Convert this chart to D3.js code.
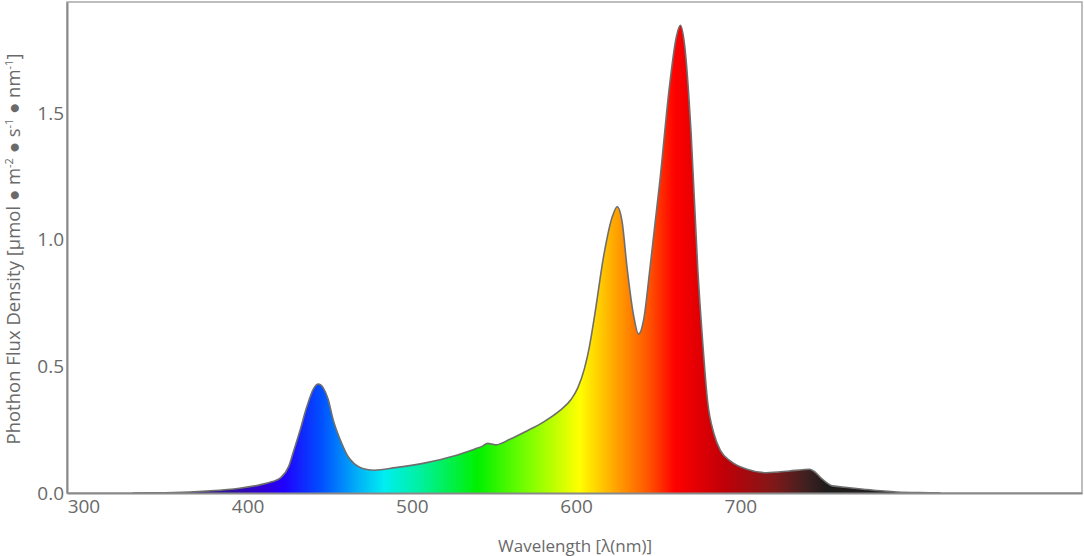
<!DOCTYPE html>
<html>
<head>
<meta charset="utf-8">
<script src="https://cdn.jsdelivr.net/npm/d3@7"></script>
<style>
  body { margin: 0; background: #fff; }
  svg { display: block; font-family: "Open Sans", sans-serif; }
</style>
</head>
<body>
<svg id="chart" width="1084" height="556"></svg>
<script>
// spectrum (nm, µmol/m²/s/nm)
const wavelengths = [330, 345, 355, 375, 395, 408, 415, 420, 425, 428, 432, 436, 440, 443, 446, 449, 452, 457, 461, 465, 470, 477,
  490, 509, 525, 538, 543, 546, 551, 560, 570, 580, 590, 597, 601, 605, 608, 611, 617, 622, 625, 628, 631, 635, 638, 641, 645,
  651, 657, 661, 663.5, 666, 670, 674, 677, 680, 684, 688, 694, 704, 716, 730, 738, 742, 745, 749, 756, 765, 775, 795, 815, 822];
const fluxValues = [0, 0.001, 0.002, 0.008, 0.019, 0.033, 0.045, 0.06, 0.105, 0.166, 0.25, 0.34, 0.41, 0.43, 0.415, 0.37, 0.29, 0.2, 0.145, 0.115, 0.097, 0.09,
  0.1, 0.12, 0.145, 0.173, 0.185, 0.196, 0.19, 0.213, 0.245, 0.28, 0.325, 0.37, 0.415, 0.49, 0.575, 0.69, 0.944, 1.09, 1.13, 1.07, 0.89, 0.7, 0.627, 0.68, 0.89,
  1.233, 1.615, 1.8, 1.846, 1.77, 1.42, 0.89, 0.6, 0.364, 0.232, 0.166, 0.126, 0.094, 0.08, 0.087, 0.092, 0.094, 0.085, 0.06, 0.028, 0.022, 0.015, 0.004, 0.001, 0];

// colour of the fill by wavelength
const colorStops = [330, 360, 390, 410, 422, 445, 465, 483, 505, 540, 572, 602, 625, 645, 660, 690, 720, 740, 752, 800, 830];
const stopColors = ["#606070", "#3a2a70", "#3010a0", "#3000d8", "#2000ff", "#0050ff", "#00a8f8", "#00eef0", "#00f0a0", "#00f000",
  "#80ff00", "#ffff00", "#ffa000", "#ff5000", "#ff0000", "#c00008", "#801818", "#402020", "#201c1c", "#202020", "#606060"];

const xTicks = [300, 400, 500, 600, 700];
const yTicks = [0, 0.5, 1.0, 1.5];

const margin = {left: 67, top: 2, right: 2, bottom: 63};
const width = 1084, height = 556;

const svg = d3.select("#chart");
const x = d3.scaleLinear().domain([290, 908]).range([margin.left, width - margin.right]);
const y = d3.scaleLinear().domain([0, 1.938]).range([height - margin.bottom, margin.top]);

const data = wavelengths.map((w, i) => ({w: w, v: fluxValues[i]}));

// gradient along the x axis
const grad = svg.append("defs").append("linearGradient")
    .attr("id", "spectrum")
    .attr("gradientUnits", "userSpaceOnUse")
    .attr("x1", x(colorStops[0])).attr("x2", x(colorStops.at(-1)))
    .attr("y1", 0).attr("y2", 0);
const span = colorStops.at(-1) - colorStops[0];
grad.selectAll("stop")
    .data(colorStops)
    .join("stop")
    .attr("offset", d => (d - colorStops[0]) / span)
    .attr("stop-color", (d, i) => stopColors[i]);

// plot frame
svg.append("rect")
    .attr("x", margin.left).attr("y", margin.top)
    .attr("width", width - margin.left - margin.right)
    .attr("height", height - margin.top - margin.bottom)
    .attr("fill", "none")
    .attr("stroke", "#a8a8a8")
    .attr("stroke-width", 1.5);

const area = d3.area()
    .x(d => x(d.w)).y0(y(0)).y1(d => y(d.v))
    .curve(d3.curveMonotoneX);
const line = d3.line()
    .x(d => x(d.w)).y(d => y(d.v))
    .curve(d3.curveMonotoneX);

svg.append("path")
    .datum(data)
    .attr("d", area)
    .attr("fill", "url(#spectrum)");
svg.append("path")
    .datum(data)
    .attr("d", line)
    .attr("fill", "none")
    .attr("stroke", "#6e6e6e")
    .attr("stroke-width", 1.6);

// axes
const gx = svg.append("g")
    .attr("transform", "translate(0," + y(0) + ")")
    .call(d3.axisBottom(x).tickValues(xTicks).tickFormat(d3.format("d")).tickSize(0).tickPadding(7));
const gy = svg.append("g")
    .attr("transform", "translate(" + margin.left + ",0)")
    .call(d3.axisLeft(y).tickValues(yTicks).tickFormat(d3.format(".1f")).tickSize(0).tickPadding(3));
[gx, gy].forEach(g => {
    g.select(".domain").attr("stroke", "#8a8a8a").attr("stroke-width", 2);
    g.selectAll("text")
        .attr("fill", "#6a6a6a")
        .style("font-size", "19px")
        .style("font-family", "'Open Sans', sans-serif");
});

// titles
svg.append("text")
    .attr("x", 575).attr("y", 552)
    .attr("text-anchor", "middle")
    .attr("fill", "#6a6a6a")
    .style("font-size", "17px")
    .text("Wavelength [λ(nm)]");

const yTitle = svg.append("text")
    .attr("transform", "translate(20,249) rotate(-90)")
    .attr("text-anchor", "middle")
    .attr("fill", "#6a6a6a")
    .style("font-size", "18.5px");
const parts = [["Phothon Flux Density [µmol ● m", false], ["-2", true], [" ● s", false], ["-1", true],
  [" ● nm", false], ["-1", true], ["]", false]];
parts.forEach(p => {
    const t = yTitle.append("tspan").text(p[0]);
    if (p[1]) t.attr("baseline-shift", "super").style("font-size", "11px");
});
</script>
</body>
</html>
